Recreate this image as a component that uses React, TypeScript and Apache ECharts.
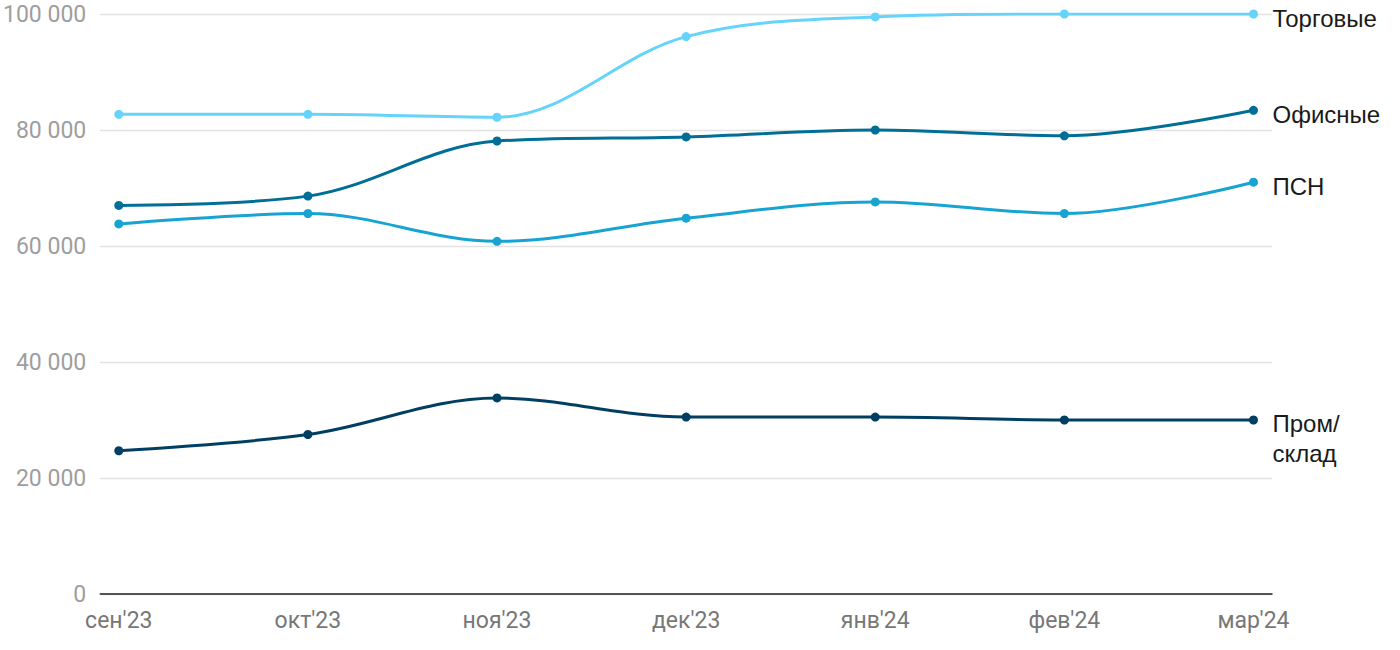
import React, { useEffect, useRef } from "react";
import * as echarts from "echarts";

const categories = ["сен'23", "окт'23", "ноя'23", "дек'23", "янв'24", "фев'24", "мар'24"];
const seriesNames = ["Торговые", "Офисные", "ПСН", "Пром/\nсклад"];
const torgovye = [82700, 82700, 82200, 96100, 99500, 100000, 100000];
const ofisnye = [67000, 68600, 78100, 78800, 80000, 79000, 83400];
const psn = [63800, 65600, 60800, 64800, 67600, 65600, 71000];
const promSklad = [24700, 27500, 33800, 30500, 30500, 30000, 30000];
const yTicks = [0, 20000, 40000, 60000, 80000, 100000];
const colors = ["#66D4FA", "#006E96", "#18A4D2", "#003F62"];
const labelOffsets = [[0, 4], [0, 4], [0, 4], [0, 18]];

const seriesData = [torgovye, ofisnye, psn, promSklad];

export default function App() {
  const ref = useRef<HTMLDivElement>(null);
  useEffect(() => {
    if (!ref.current) return;
    const chart = echarts.init(ref.current, null, { renderer: "svg" });
    const font = "Roboto, 'Liberation Sans', sans-serif";
    const labelFont = "'Liberation Sans', Arial, sans-serif";
    chart.setOption({
      animation: false,
      textStyle: { fontFamily: font },
      grid: { left: 100, right: 128, top: 14, bottom: 56, containLabel: false },
      xAxis: {
        type: "value",
        min: -0.098,
        max: 6.098,
        axisLine: { show: true, onZero: true, lineStyle: { color: "#222", width: 1.5 } },
        axisTick: { show: false },
        splitLine: { show: false },
        axisLabel: {
          customValues: categories.map((_, i) => i),
          formatter: (v: number) => categories[Math.round(v)] ?? "",
          color: "#777",
          fontSize: 23,
          fontFamily: font,
          margin: 15,
        },
      },
      yAxis: {
        type: "value",
        min: 0,
        max: 100000,
        interval: 20000,
        axisLine: { show: false },
        axisTick: { show: false },
        splitLine: { lineStyle: { color: "#e2e2e2", width: 1.3 } },
        axisLabel: {
          customValues: yTicks,
          formatter: (v: number) => String(v).replace(/\B(?=(\d{3})+(?!\d))/g, " "),
          color: "#9e9e9e",
          fontSize: 23,
          fontFamily: font,
          margin: 14,
        },
      },
      series: seriesData.map((d, si) => ({
        type: "line",
        name: seriesNames[si],
        data: d.map((v, i) => [i, v]),
        smooth: 0.35,
        symbol: "circle",
        symbolSize: 9,
        lineStyle: { width: 3, color: colors[si] },
        itemStyle: { color: colors[si] },
        z: 10 - si,
        endLabel: {
          show: true,
          formatter: seriesNames[si],
          color: "#1a1a1a",
          fontSize: 24,
          fontFamily: labelFont,
          distance: 19,
          lineHeight: 30,
          offset: labelOffsets[si],
        },
      })),
    });
    return () => chart.dispose();
  }, []);
  return (
    <div
      ref={ref}
      style={{ position: "fixed", left: 0, top: 0, width: 1400, height: 650, background: "#fff" }}
    />
  );
}
